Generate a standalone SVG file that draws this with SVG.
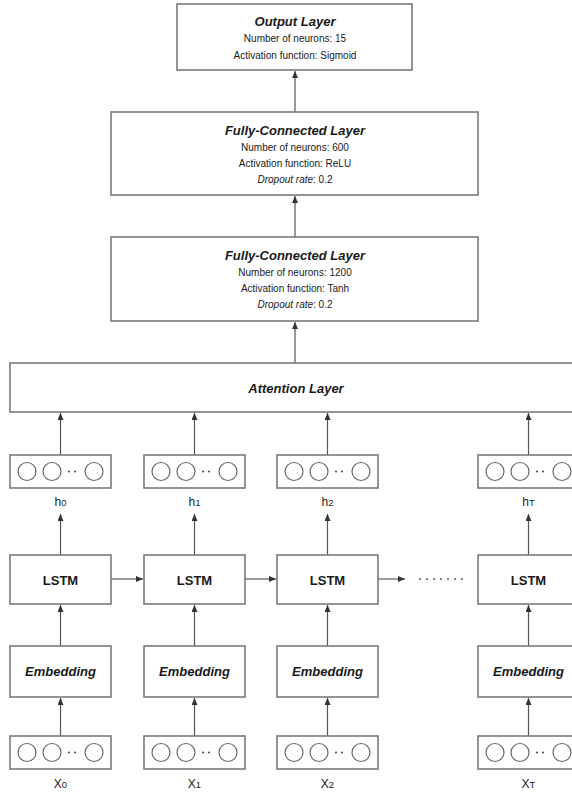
<svg xmlns="http://www.w3.org/2000/svg" xmlns:xlink="http://www.w3.org/1999/xlink" width="572" height="792" viewBox="0 0 572 792">
<style>
.box{fill:#fff;stroke:#7a7a7a;stroke-width:1.6}
.c{fill:none;stroke:#666;stroke-width:1.2}
.ln{fill:none;stroke:#555;stroke-width:1.2}
text{font-family:"Liberation Sans",Arial,sans-serif;fill:#1a1a1a;text-anchor:middle;dominant-baseline:central}
.t{font-size:13px;font-weight:bold;font-style:italic}
.b{font-size:13px;font-weight:bold}
.s{font-size:10px}
.i{font-style:italic}
.lab{font-size:12px}
.sub{font-size:9.5px}
</style>
<defs>
<marker id="ah" markerUnits="userSpaceOnUse" markerWidth="7" markerHeight="6" refX="7" refY="3" orient="auto">
<path d="M0,0 L7,3 L0,6 z" fill="#333"/>
</marker>
<g id="vec">
<rect class="box" x="0" y="0" width="101" height="33"/>
<circle class="c" cx="17" cy="16.5" r="9"/>
<circle class="c" cx="42" cy="16.5" r="9"/>
<circle class="c" cx="84" cy="16.5" r="9"/>
<circle cx="59" cy="16.5" r="1.1" fill="#555"/>
<circle cx="65" cy="16.5" r="1.1" fill="#555"/>
</g>
</defs>
<rect width="572" height="792" fill="#fff"/>

<g id="connectors">
<line class="ln" x1="295" y1="112" x2="295" y2="71" marker-end="url(#ah)"/>
<line class="ln" x1="295" y1="237" x2="295" y2="196" marker-end="url(#ah)"/>
<line class="ln" x1="295" y1="363" x2="295" y2="322" marker-end="url(#ah)"/>
<line class="ln" x1="60.5" y1="455" x2="60.5" y2="413" marker-end="url(#ah)"/>
<line class="ln" x1="194.5" y1="455" x2="194.5" y2="413" marker-end="url(#ah)"/>
<line class="ln" x1="327.5" y1="455" x2="327.5" y2="413" marker-end="url(#ah)"/>
<line class="ln" x1="528.5" y1="455" x2="528.5" y2="413" marker-end="url(#ah)"/>
<line class="ln" x1="60.5" y1="555" x2="60.5" y2="514" marker-end="url(#ah)"/>
<line class="ln" x1="194.5" y1="555" x2="194.5" y2="514" marker-end="url(#ah)"/>
<line class="ln" x1="327.5" y1="555" x2="327.5" y2="514" marker-end="url(#ah)"/>
<line class="ln" x1="528.5" y1="555" x2="528.5" y2="514" marker-end="url(#ah)"/>
<line class="ln" x1="60.5" y1="646" x2="60.5" y2="605" marker-end="url(#ah)"/>
<line class="ln" x1="194.5" y1="646" x2="194.5" y2="605" marker-end="url(#ah)"/>
<line class="ln" x1="327.5" y1="646" x2="327.5" y2="605" marker-end="url(#ah)"/>
<line class="ln" x1="528.5" y1="646" x2="528.5" y2="605" marker-end="url(#ah)"/>
<line class="ln" x1="60.5" y1="736" x2="60.5" y2="698" marker-end="url(#ah)"/>
<line class="ln" x1="194.5" y1="736" x2="194.5" y2="698" marker-end="url(#ah)"/>
<line class="ln" x1="327.5" y1="736" x2="327.5" y2="698" marker-end="url(#ah)"/>
<line class="ln" x1="528.5" y1="736" x2="528.5" y2="698" marker-end="url(#ah)"/>
<line class="ln" x1="111" y1="579" x2="143" y2="579" marker-end="url(#ah)"/>
<line class="ln" x1="245" y1="579" x2="276" y2="579" marker-end="url(#ah)"/>
<line class="ln" x1="378" y1="579" x2="405" y2="579" marker-end="url(#ah)"/>
<line x1="420" y1="579" x2="469" y2="579" stroke="#555" stroke-width="2" stroke-linecap="round" stroke-dasharray="0 7"/>
</g>

<g id="output">
<rect class="box" x="177" y="4" width="235" height="66"/>
<text class="t" x="295" y="21">Output Layer</text>
<text class="s" x="295" y="38">Number of neurons: 15</text>
<text class="s" x="295" y="55">Activation function: Sigmoid</text>
</g>

<g id="fc1">
<rect class="box" x="111" y="112" width="367" height="83"/>
<text class="t" x="295" y="130">Fully-Connected Layer</text>
<text class="s" x="295" y="147">Number of neurons: 600</text>
<text class="s" x="295" y="163">Activation function: ReLU</text>
<text class="s" x="295" y="179"><tspan class="i">Dropout rate</tspan>: 0.2</text>
</g>

<g id="fc2">
<rect class="box" x="111" y="237" width="367" height="84"/>
<text class="t" x="295" y="255">Fully-Connected Layer</text>
<text class="s" x="295" y="272">Number of neurons: 1200</text>
<text class="s" x="295" y="288">Activation function: Tanh</text>
<text class="s" x="295" y="304"><tspan class="i">Dropout rate</tspan>: 0.2</text>
</g>

<g id="attention">
<rect class="box" x="10" y="363" width="575" height="49"/>
<text class="t" x="296" y="388">Attention Layer</text>
</g>

<g id="h0"><use xlink:href="#vec" x="10" y="455"/><text class="lab" x="60.5" y="502">h<tspan class="sub">0</tspan></text></g>
<g id="h1"><use xlink:href="#vec" x="144" y="455"/><text class="lab" x="194.5" y="502">h<tspan class="sub">1</tspan></text></g>
<g id="h2"><use xlink:href="#vec" x="277" y="455"/><text class="lab" x="327.5" y="502">h<tspan class="sub">2</tspan></text></g>
<g id="hT"><use xlink:href="#vec" x="478" y="455"/><text class="lab" x="528.5" y="502">h<tspan class="sub">T</tspan></text></g>

<g id="lstm0"><rect class="box" x="10" y="555" width="101" height="49"/><text class="b" x="60.5" y="580">LSTM</text></g>
<g id="lstm1"><rect class="box" x="144" y="555" width="101" height="49"/><text class="b" x="194.5" y="580">LSTM</text></g>
<g id="lstm2"><rect class="box" x="277" y="555" width="101" height="49"/><text class="b" x="327.5" y="580">LSTM</text></g>
<g id="lstmT"><rect class="box" x="478" y="555" width="101" height="49"/><text class="b" x="528.5" y="580">LSTM</text></g>

<g id="emb0"><rect class="box" x="10" y="646" width="101" height="51"/><text class="t" x="60.5" y="671">Embedding</text></g>
<g id="emb1"><rect class="box" x="144" y="646" width="101" height="51"/><text class="t" x="194.5" y="671">Embedding</text></g>
<g id="emb2"><rect class="box" x="277" y="646" width="101" height="51"/><text class="t" x="327.5" y="671">Embedding</text></g>
<g id="embT"><rect class="box" x="478" y="646" width="101" height="51"/><text class="t" x="528.5" y="671">Embedding</text></g>

<g id="x0"><use xlink:href="#vec" x="10" y="736"/><text class="lab" x="60.5" y="784">X<tspan class="sub">0</tspan></text></g>
<g id="x1"><use xlink:href="#vec" x="144" y="736"/><text class="lab" x="194.5" y="784">X<tspan class="sub">1</tspan></text></g>
<g id="x2"><use xlink:href="#vec" x="277" y="736"/><text class="lab" x="327.5" y="784">X<tspan class="sub">2</tspan></text></g>
<g id="xT"><use xlink:href="#vec" x="478" y="736"/><text class="lab" x="528.5" y="784">X<tspan class="sub">T</tspan></text></g>
</svg>
